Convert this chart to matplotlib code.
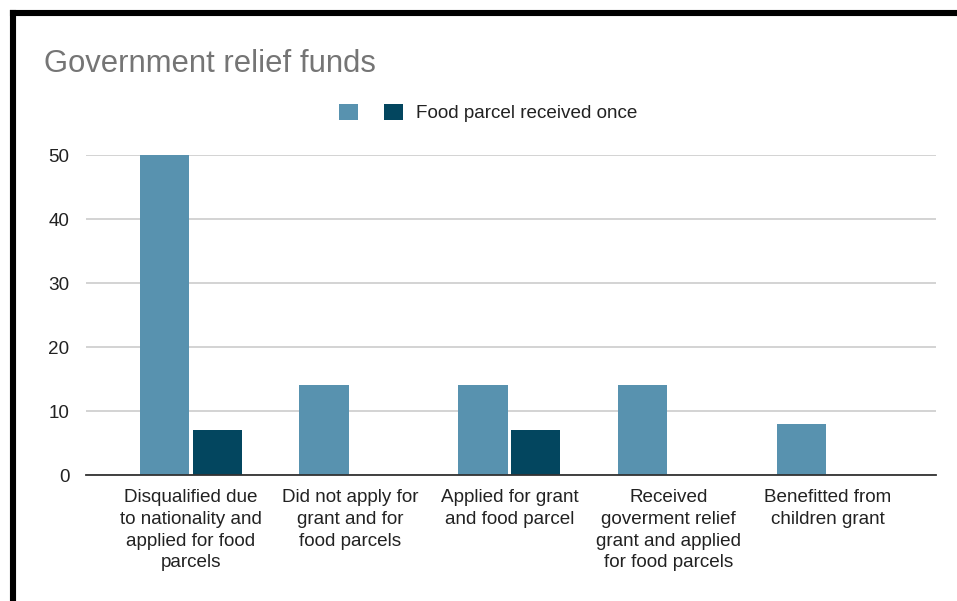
import matplotlib.pyplot as plt
import numpy as np
from matplotlib.lines import Line2D
from matplotlib.patches import Patch

plt.rcParams["font.family"] = ["Liberation Sans", "DejaVu Sans"]

# Survey groups and counts
categories = [
    "Disqualified due\nto nationality and\napplied for food\nparcels",
    "Did not apply for\ngrant and for\nfood parcels",
    "Applied for grant\nand food parcel",
    "Received\ngoverment relief\ngrant and applied\nfor food parcels",
    "Benefitted from\nchildren grant",
]
first_series = [50, 14, 14, 14, 8]
food_parcel_once = [7, 0, 7, 0, 0]
series_labels = ["", "Food parcel received once"]
y_ticks = [0, 10, 20, 30, 40, 50]

light = "#5892af"
dark = "#03465f"

W, H = 957, 601
fig = plt.figure(figsize=(W / 100, H / 100), dpi=100)
ax = fig.add_axes([86 / W, (H - 475) / H, (936 - 86) / W, (475 - 155) / H])

x = np.arange(len(categories))
bw = 0.31
gap = 0.01
ax.bar(x - bw / 2 - gap, first_series, width=bw, color=light, zorder=3)
ax.bar(x + bw / 2 + gap, [v if v > 0 else np.nan for v in food_parcel_once],
       width=bw, color=dark, zorder=3)

ax.set_xlim(-0.66, 4.68)
ax.set_ylim(0, 50)
ax.set_yticks(y_ticks)
ax.set_xticks(x)
ax.set_xticklabels(categories, fontsize=13.6, color="#222222", linespacing=1.37,
                   va="top")
ax.tick_params(axis="x", length=0, pad=10)
ax.tick_params(axis="y", length=0, pad=12, labelsize=13.6, labelcolor="#222222")
ax.grid(axis="y", color="#cccccc", linewidth=1.2, zorder=0)
for s in ["top", "right", "left"]:
    ax.spines[s].set_visible(False)
ax.spines["bottom"].set_color("#333333")
ax.spines["bottom"].set_linewidth(1.3)
ax.spines["bottom"].set_zorder(4)

fig.text(44 / W, 1 - 64 / H, "Government relief funds", fontsize=22.3,
         color="#757575", va="center", ha="left")

handles = [Patch(facecolor=light, label=series_labels[0]),
           Patch(facecolor=dark, label=series_labels[1])]
fig.legend(handles=handles, loc="center left",
           bbox_to_anchor=(339 / W, 1 - 113 / H), ncol=2, frameon=False,
           fontsize=13.6, handlelength=0.98, handleheight=0.98,
           handletextpad=0.72, columnspacing=0.7, borderpad=0,
           borderaxespad=0, labelcolor="#222222")

# frame drawn along the top and left edges
fig.add_artist(Line2D([13 / W, 1.02], [1 - 13 / H, 1 - 13 / H],
                      transform=fig.transFigure, color="black", linewidth=4.4,
                      solid_capstyle="projecting"))
fig.add_artist(Line2D([13 / W, 13 / W], [1 - 13 / H, -0.02],
                      transform=fig.transFigure, color="black", linewidth=4.4,
                      solid_capstyle="projecting"))

fig.savefig("out.png", dpi=100)
